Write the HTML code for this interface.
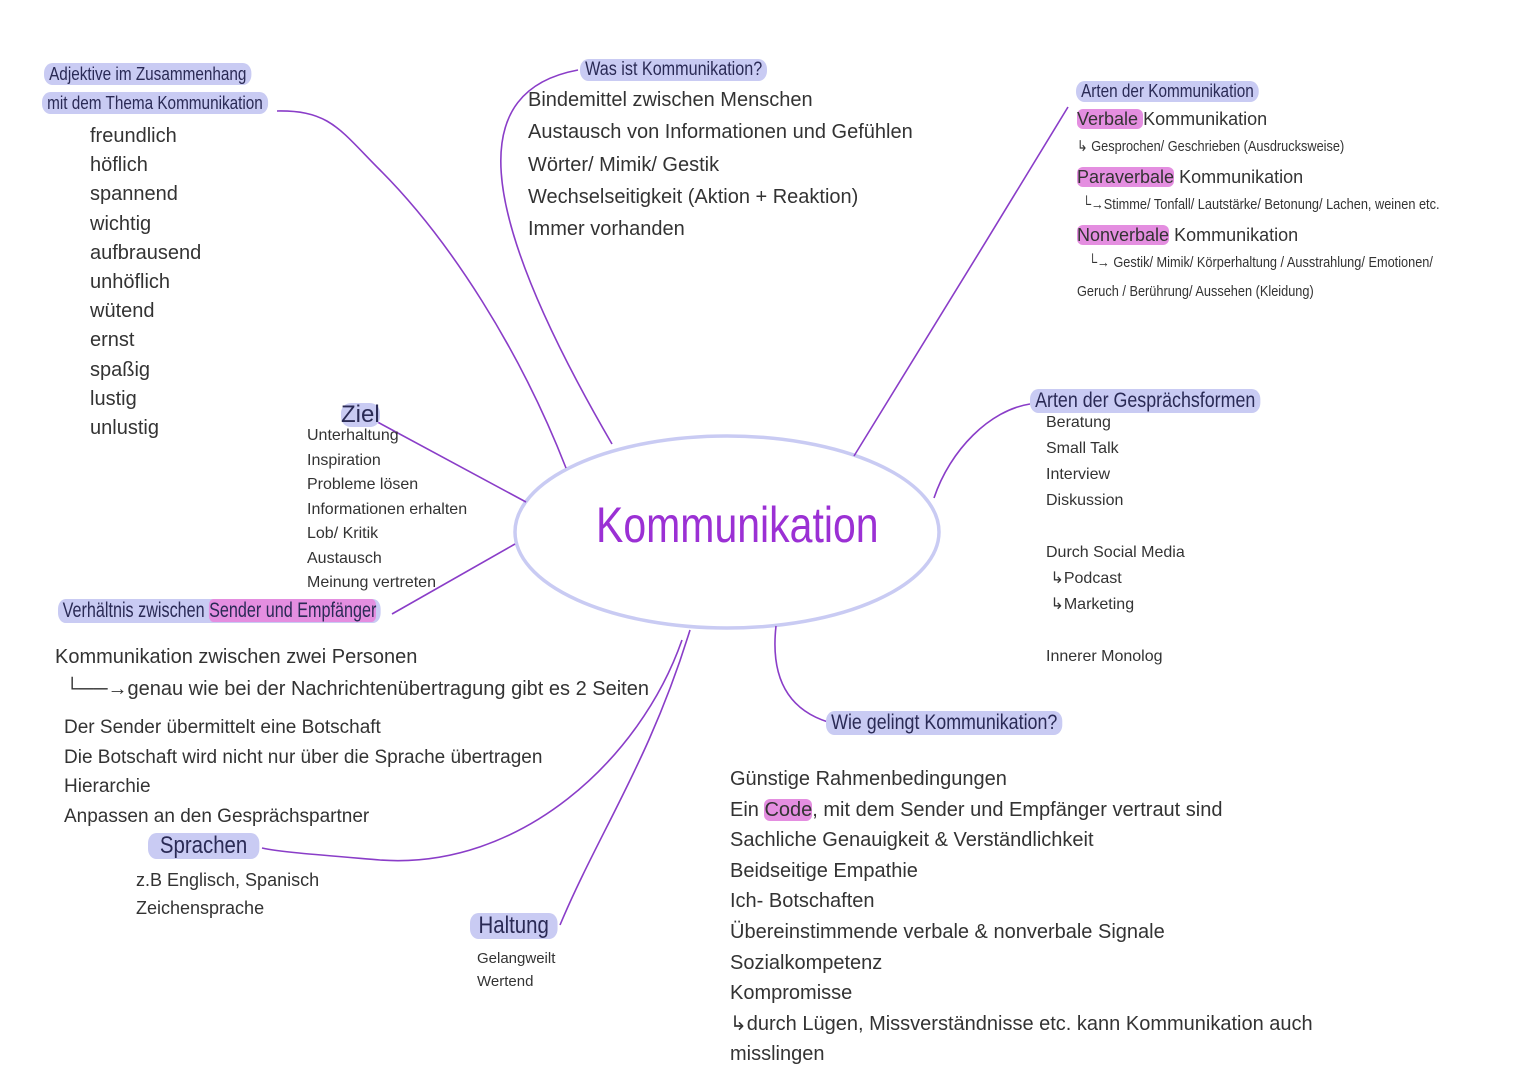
<!DOCTYPE html>
<html><head><meta charset="utf-8"><style>
body{margin:0;width:1527px;height:1080px;background:#fff;position:relative;overflow:hidden;font-family:"Liberation Sans",sans-serif;color:#333}
.t{position:absolute;white-space:nowrap}
.h{position:absolute;white-space:nowrap;background:#c9cbf3;border-radius:10px;padding:0 6px;color:#2a2a55;font-family:"Liberation Sans Narrow","Liberation Sans",sans-serif;transform:scaleX(.85);transform-origin:left}
.p{background:#e48ee0;border-radius:6px}
.l20{font-size:20px;line-height:29px}
.l16{font-size:16px;line-height:24.5px}
</style></head><body>
<svg width="1527" height="1080" style="position:absolute;left:0;top:0" fill="none" stroke="#8a3dc8" stroke-width="1.6">
<ellipse cx="727" cy="532" rx="212" ry="96" stroke="#c9cbf3" stroke-width="3.5"/>
<path d="M277 111 C330 110 340 130 380 170 C450 240 520 350 566 468"/>
<path d="M578 70 C470 90 470 200 612 444"/>
<path d="M1068 107 C1000 220 900 380 854 456"/>
<path d="M1030 404 C990 410 950 450 934 498"/>
<path d="M776 626 C770 680 790 710 828 722"/>
<path d="M690 630 C650 760 600 830 560 925"/>
<path d="M682 640 C640 760 520 870 380 860 C320 855 280 852 262 848"/>
<path d="M515 544 L392 614"/>
<path d="M370 418 L526 502"/>
</svg>
<div class="t" style="left:596px;top:496px;font-size:50px;color:#9b30d4;transform:scaleX(.82);transform-origin:left">Kommunikation</div>

<div class="h" style="left:44px;top:63px;font-size:18px;line-height:22px">Adjektive im Zusammenhang</div>
<div class="h" style="left:42px;top:92px;font-size:18px;line-height:22px">mit dem Thema Kommunikation</div>
<div class="t l20" style="left:90px;top:122px;line-height:29.2px">freundlich<br>höflich<br>spannend<br>wichtig<br>aufbrausend<br>unhöflich<br>wütend<br>ernst<br>spaßig<br>lustig<br>unlustig</div>

<div class="h" style="left:580px;top:59px;font-size:19px;line-height:22px">Was ist Kommunikation?</div>
<div class="t l20" style="left:528px;top:84px;line-height:32.3px">Bindemittel zwischen Menschen<br>Austausch von Informationen und Gefühlen<br>Wörter/ Mimik/ Gestik<br>Wechselseitigkeit (Aktion + Reaktion)<br>Immer vorhanden</div>

<div class="h" style="left:1076px;top:81px;font-size:18px;line-height:21px">Arten der Kommunikation</div>
<div class="t" style="left:1077px;top:107px;font-size:18px;line-height:24px"><span class="p">Verbale </span>Kommunikation</div>
<div class="t" style="left:1077px;top:137px;font-size:15px;transform:scaleX(.85);transform-origin:left">↳ Gesprochen/ Geschrieben (Ausdrucksweise)</div>
<div class="t" style="left:1077px;top:165px;font-size:18px;line-height:24px"><span class="p">Paraverbale</span> Kommunikation</div>
<div class="t" style="left:1082px;top:196px;font-size:15px;transform:scaleX(.85);transform-origin:left">└→Stimme/ Tonfall/ Lautstärke/ Betonung/ Lachen, weinen etc.</div>
<div class="t" style="left:1077px;top:223px;font-size:18px;line-height:24px"><span class="p">Nonverbale</span> Kommunikation</div>
<div class="t" style="left:1088px;top:254px;font-size:15px;transform:scaleX(.85);transform-origin:left">└→ Gestik/ Mimik/ Körperhaltung / Ausstrahlung/ Emotionen/</div>
<div class="t" style="left:1077px;top:283px;font-size:15px;transform:scaleX(.85);transform-origin:left">Geruch / Berührung/ Aussehen (Kleidung)</div>

<div class="h" style="left:1030px;top:389px;font-size:21px;line-height:24px">Arten der Gesprächsformen</div>
<div class="t" style="left:1046px;top:410px;font-size:16px;line-height:26px">Beratung<br>Small Talk<br>Interview<br>Diskussion<br><br>Durch Social Media<br>&nbsp;↳Podcast<br>&nbsp;↳Marketing<br><br>Innerer Monolog</div>

<div class="h" style="left:826px;top:711px;font-size:21px;line-height:24px">Wie gelingt Kommunikation?</div>
<div class="t l20" style="left:730px;top:764px;line-height:30.6px">Günstige Rahmenbedingungen<br>Ein <span class="p">Code</span>, mit dem Sender und Empfänger vertraut sind<br>Sachliche Genauigkeit &amp; Verständlichkeit<br>Beidseitige Empathie<br>Ich- Botschaften<br>Übereinstimmende verbale &amp; nonverbale Signale<br>Sozialkompetenz<br>Kompromisse<br>↳durch Lügen, Missverständnisse etc. kann Kommunikation auch<br>misslingen</div>

<div class="t" style="left:341px;top:403px;font-size:24px;color:#2a2a55;background:#c9cbf3;border-radius:10px;line-height:24px">Ziel</div>
<div class="t l16" style="left:307px;top:424px">Unterhaltung<br>Inspiration<br>Probleme lösen<br>Informationen erhalten<br>Lob/ Kritik<br>Austausch<br>Meinung vertreten</div>

<div class="h" style="left:58px;top:599px;font-size:21px;line-height:24px;transform:scaleX(.77)">Verhältnis zwischen <span class="p">Sender und Empfänger</span></div>
<div class="t l20" style="left:55px;top:643px">Kommunikation zwischen zwei Personen</div>
<div class="t l20" style="left:65px;top:675px">└──→genau wie bei der Nachrichtenübertragung gibt es 2 Seiten</div>
<div class="t" style="left:64px;top:713px;font-size:19px;line-height:29.5px">Der Sender übermittelt eine Botschaft<br>Die Botschaft wird nicht nur über die Sprache übertragen<br>Hierarchie<br>Anpassen an den Gesprächspartner</div>

<div class="h" style="left:148px;top:833px;font-size:24px;line-height:26px;padding:0 14px">Sprachen</div>
<div class="t" style="left:136px;top:866px;font-size:18px;line-height:28px">z.B Englisch, Spanisch<br>Zeichensprache</div>

<div class="h" style="left:470px;top:913px;font-size:24px;line-height:26px;padding:0 10px">Haltung</div>
<div class="t" style="left:477px;top:947px;font-size:15px;line-height:23px">Gelangweilt<br>Wertend</div>
</body></html>
